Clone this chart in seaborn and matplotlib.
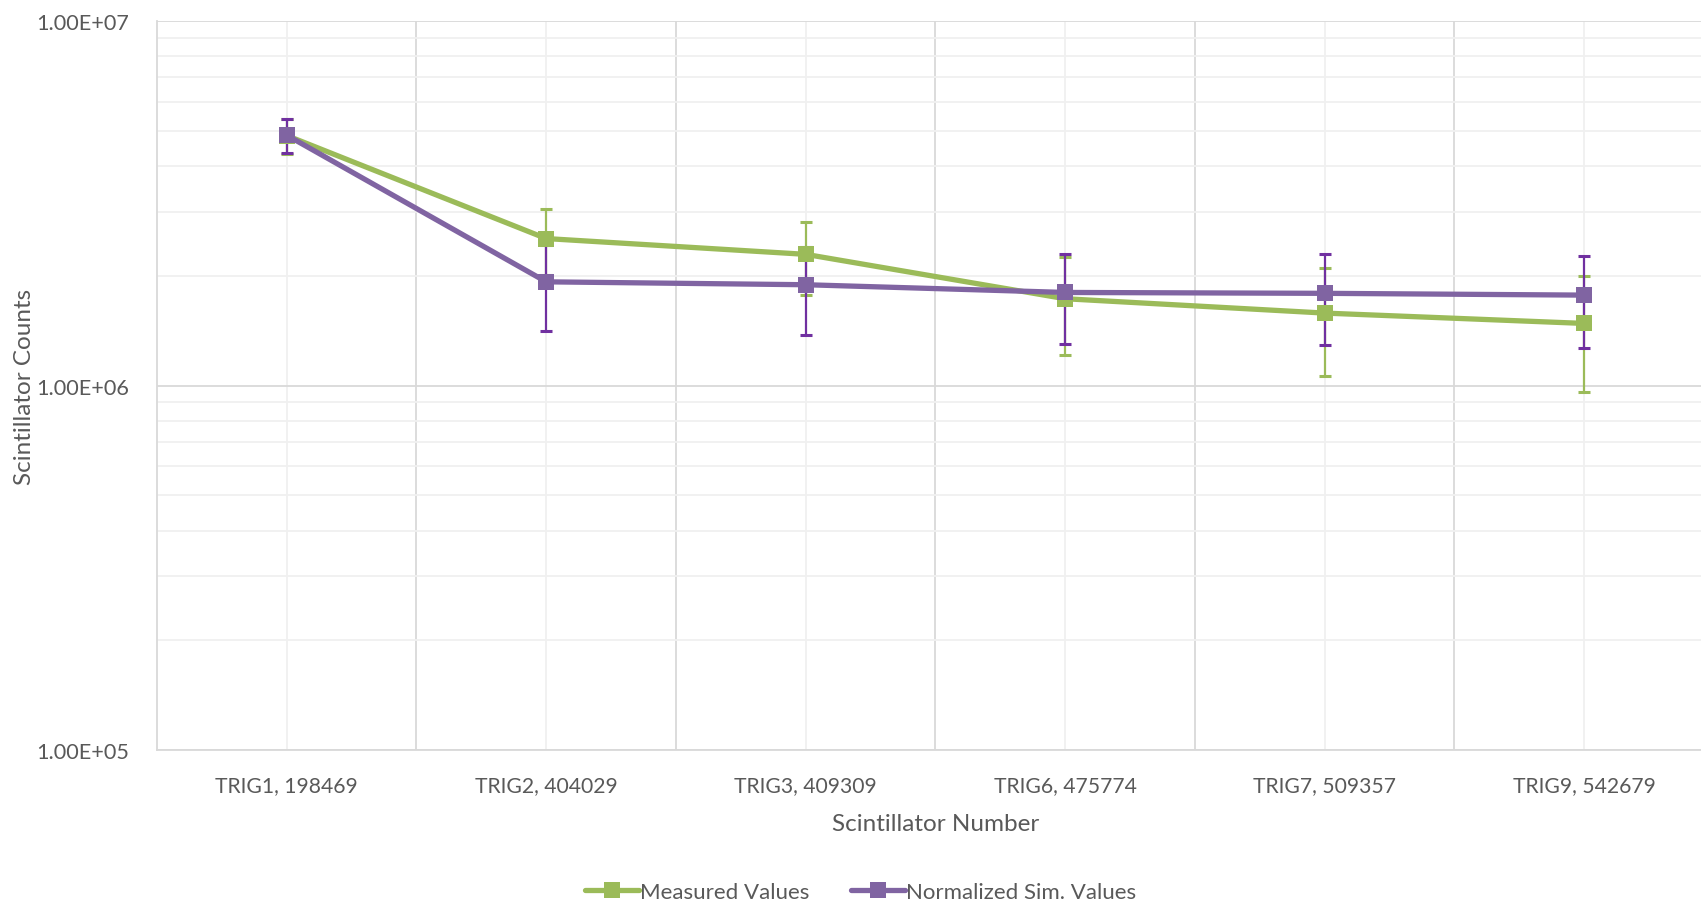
import numpy as np
import pandas as pd
import matplotlib
matplotlib.use('Agg')
import matplotlib.pyplot as plt
import seaborn as sns
from matplotlib.ticker import LogLocator, FixedLocator, NullFormatter, FuncFormatter

# Data
triggers = ['TRIG1, 198469', 'TRIG2, 404029', 'TRIG3, 409309',
            'TRIG6, 475774', 'TRIG7, 509357', 'TRIG9, 542679']
measured = [4.85e6, 2.53e6, 2.29e6, 1.73e6, 1.58e6, 1.48e6]
measured_err = [0.52e6, 0.52e6, 0.52e6, 0.52e6, 0.52e6, 0.52e6]
simulated = [4.86e6, 1.925e6, 1.89e6, 1.80e6, 1.79e6, 1.77e6]
simulated_err = [0.51e6, 0.51e6, 0.51e6, 0.50e6, 0.50e6, 0.50e6]

green = '#9BBB59'
purple = '#8064A2'
purple_err = '#7030A0'
text_grey = '#595959'

sns.set_style('white')
plt.rcParams['font.family'] = ['Lato', 'DejaVu Sans']

df = pd.DataFrame({
    'trigger': triggers * 2,
    'counts': measured + simulated,
    'series': ['Measured Values'] * 6 + ['Normalized Sim. Values'] * 6,
})

fig = plt.figure(figsize=(17.01, 9.04), dpi=100)
ax = fig.add_axes([157 / 1701, 1 - 751 / 904, 1544 / 1701, (751 - 22) / 904])

x = np.arange(len(triggers))

# error bars underneath the lines
ax.errorbar(x, measured, yerr=measured_err, fmt='none', ecolor=green,
            elinewidth=1.6, capsize=4.5, capthick=2.2, zorder=2)
ax.errorbar(x, simulated, yerr=simulated_err, fmt='none', ecolor=purple_err,
            elinewidth=1.6, capsize=4.5, capthick=2.2, zorder=2)

sns.lineplot(data=df, x='trigger', y='counts', hue='series',
             palette=[green, purple], marker='s', markersize=12,
             markeredgewidth=0, linewidth=3.8, sort=False, ax=ax, zorder=3)

ax.set_yscale('log')
ax.set_ylim(1e5, 1e7)
ax.set_xlim(-0.5, 5.45)

# gridlines: major at category boundaries / decades, minor at centres / sub-decades
ax.xaxis.set_major_locator(FixedLocator(x))
ax.set_xticklabels(triggers)
ax.xaxis.set_minor_locator(FixedLocator(np.arange(0.5, 5.5, 1)))
ax.yaxis.set_major_locator(LogLocator(base=10, numticks=10))
ax.yaxis.set_minor_locator(LogLocator(base=10, subs=np.arange(2, 10), numticks=20))
ax.yaxis.set_minor_formatter(NullFormatter())
ax.yaxis.set_major_formatter(FuncFormatter(lambda v, p: f'{v:.2E}'))

ax.grid(False)
ax.xaxis.grid(True, which='major', color='#F0F0F0', linewidth=1.3)
ax.xaxis.grid(True, which='minor', color='#D9D9D9', linewidth=1.3)
ax.yaxis.grid(True, which='major', color='#D9D9D9', linewidth=1.3)
ax.yaxis.grid(True, which='minor', color='#F0F0F0', linewidth=1.3)
ax.set_axisbelow(True)

for side in ['top', 'right']:
    ax.spines[side].set_visible(False)
for side in ['left', 'bottom']:
    ax.spines[side].set_color('#D9D9D9')
    ax.spines[side].set_linewidth(1.3)

ax.tick_params(axis='both', which='both', length=0, labelsize=15.2,
               labelcolor=text_grey)
ax.tick_params(axis='x', pad=18)
ax.tick_params(axis='y', pad=20, labelsize=15.6)

ax.set_xlabel('Scintillator Number', fontsize=17.5, color=text_grey)
ax.set_ylabel('Scintillator Counts', fontsize=17.5, color=text_grey)
ax.xaxis.set_label_coords(0.504, -0.086)
ax.yaxis.set_label_coords(-0.079, 0.5)

handles, labels = ax.get_legend_handles_labels()
ax.get_legend().remove()
fig.legend(handles, labels, loc='center', bbox_to_anchor=(0.506, 0.0125),
           ncol=2, frameon=False, fontsize=16, labelcolor=text_grey,
           handlelength=2.4, handletextpad=0.05, columnspacing=1.9)

fig.savefig('out.png', dpi=100)
